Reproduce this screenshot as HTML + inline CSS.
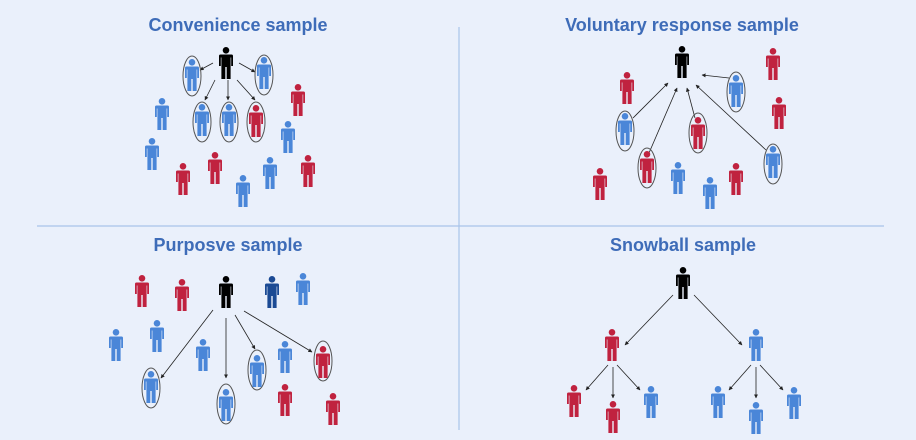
<!DOCTYPE html>
<html><head><meta charset="utf-8"><style>
html,body{margin:0;padding:0;background:#eaf0fb;}
svg{display:block}
text{font-family:"Liberation Sans",sans-serif;font-weight:bold;fill:#3e6cb8;font-size:18px;text-anchor:middle}
</style></head><body>
<svg width="916" height="440" viewBox="0 0 916 440" xmlns="http://www.w3.org/2000/svg">
<defs>
<symbol id="p" viewBox="-8 0 16 32" width="16" height="32" overflow="visible">
<circle cx="0" cy="3.3" r="3.3"/>
<path d="M-5.5 7.5 H5.5 Q7 7.5 7 9 V19 H5.2 V10.5 H4.6 V32 H0.7 V20 H-0.7 V32 H-4.6 V10.5 H-5.2 V19 H-7 V9 Q-7 7.5 -5.5 7.5Z"/>
</symbol>
<marker id="a" viewBox="0 0 10 10" refX="9" refY="5" markerWidth="5" markerHeight="5" orient="auto"><path d="M0 0L10 5L0 10z" fill="#222"/></marker>
</defs>
<rect width="916" height="440" fill="#eaf0fb"/>
<line x1="459" y1="27" x2="459" y2="430" stroke="#a9c4ea" stroke-width="1.2"/>
<line x1="37" y1="226" x2="884" y2="226" stroke="#a9c4ea" stroke-width="1.2"/>
<text x="238" y="31">Convenience sample</text>
<text x="682" y="31">Voluntary response sample</text>
<text x="228" y="251">Purposve sample</text>
<text x="683" y="251">Snowball sample</text>

<g stroke="#222" stroke-width="0.8" fill="none" marker-end="url(#a)">
<!-- panel1 -->
<line x1="213" y1="63" x2="200" y2="70"/>
<line x1="239" y1="63" x2="255" y2="72"/>
<line x1="215" y1="80" x2="205" y2="100"/>
<line x1="228" y1="80" x2="228" y2="100"/>
<line x1="237" y1="80" x2="255" y2="100"/>
<!-- panel2 -->
<line x1="633" y1="118" x2="668" y2="83"/>
<line x1="649" y1="153" x2="677" y2="88"/>
<line x1="695" y1="118" x2="687" y2="88"/>
<line x1="766" y1="150" x2="696" y2="85"/>
<line x1="729" y1="78" x2="702" y2="75"/>
<!-- panel3 -->
<line x1="213" y1="310" x2="161" y2="378"/>
<line x1="226" y1="318" x2="226" y2="378"/>
<line x1="235" y1="315" x2="255" y2="349"/>
<line x1="244" y1="311" x2="312" y2="352"/>
<!-- panel4 -->
<line x1="673" y1="295" x2="625" y2="345"/>
<line x1="694" y1="295" x2="742" y2="345"/>
<line x1="608" y1="365" x2="586" y2="390"/>
<line x1="613" y1="367" x2="613" y2="398"/>
<line x1="617" y1="365" x2="640" y2="390"/>
<line x1="751" y1="365" x2="729" y2="390"/>
<line x1="756" y1="367" x2="756" y2="398"/>
<line x1="760" y1="365" x2="783" y2="390"/>
</g>

<g fill="none" stroke="#555" stroke-width="1">
<ellipse cx="192" cy="76" rx="9" ry="20"/>
<ellipse cx="264" cy="75" rx="9" ry="20"/>
<ellipse cx="202" cy="122" rx="9" ry="20"/>
<ellipse cx="229" cy="122" rx="9" ry="20"/>
<ellipse cx="256" cy="122" rx="9" ry="20"/>
<ellipse cx="736" cy="92" rx="9" ry="20"/>
<ellipse cx="625" cy="131" rx="9" ry="20"/>
<ellipse cx="647" cy="168" rx="9" ry="20"/>
<ellipse cx="698" cy="133" rx="9" ry="20"/>
<ellipse cx="773" cy="164" rx="9" ry="20"/>
<ellipse cx="151" cy="388" rx="9" ry="20"/>
<ellipse cx="226" cy="404" rx="9" ry="20"/>
<ellipse cx="257" cy="370" rx="9" ry="20"/>
<ellipse cx="323" cy="361" rx="9" ry="20"/>
</g>

<g fill="#000">
<use href="#p" x="218" y="47"/>
<use href="#p" x="674" y="46"/>
<use href="#p" x="218" y="276"/>
<use href="#p" x="675" y="267"/>
</g>
<g fill="#4a86d8">
<use href="#p" x="184" y="59"/><use href="#p" x="256" y="57"/>
<use href="#p" x="194" y="104"/><use href="#p" x="221" y="104"/>
<use href="#p" x="154" y="98"/><use href="#p" x="280" y="121"/>
<use href="#p" x="144" y="138"/><use href="#p" x="262" y="157"/>
<use href="#p" x="235" y="175"/>
<use href="#p" x="728" y="75"/><use href="#p" x="617" y="113"/>
<use href="#p" x="765" y="146"/><use href="#p" x="670" y="162"/>
<use href="#p" x="702" y="177"/>
<use href="#p" x="295" y="273"/><use href="#p" x="108" y="329"/>
<use href="#p" x="149" y="320"/><use href="#p" x="195" y="339"/>
<use href="#p" x="143" y="371"/><use href="#p" x="218" y="389"/>
<use href="#p" x="249" y="355"/><use href="#p" x="277" y="341"/>
<use href="#p" x="748" y="329"/><use href="#p" x="643" y="386"/>
<use href="#p" x="710" y="386"/><use href="#p" x="748" y="402"/>
<use href="#p" x="786" y="387"/>
</g>
<g fill="#c0223f">
<use href="#p" x="248" y="105"/><use href="#p" x="290" y="84"/>
<use href="#p" x="207" y="152"/><use href="#p" x="175" y="163"/>
<use href="#p" x="300" y="155"/>
<use href="#p" x="619" y="72"/><use href="#p" x="765" y="48"/>
<use href="#p" x="771" y="97"/><use href="#p" x="592" y="168"/>
<use href="#p" x="728" y="163"/><use href="#p" x="639" y="151"/>
<use href="#p" x="690" y="117"/>
<use href="#p" x="134" y="275"/><use href="#p" x="174" y="279"/>
<use href="#p" x="315" y="346"/><use href="#p" x="277" y="384"/>
<use href="#p" x="325" y="393"/>
<use href="#p" x="604" y="329"/><use href="#p" x="566" y="385"/>
<use href="#p" x="605" y="401"/>
</g>
<g fill="#1b4a94"><use href="#p" x="264" y="276"/></g>
</svg>
</body></html>
